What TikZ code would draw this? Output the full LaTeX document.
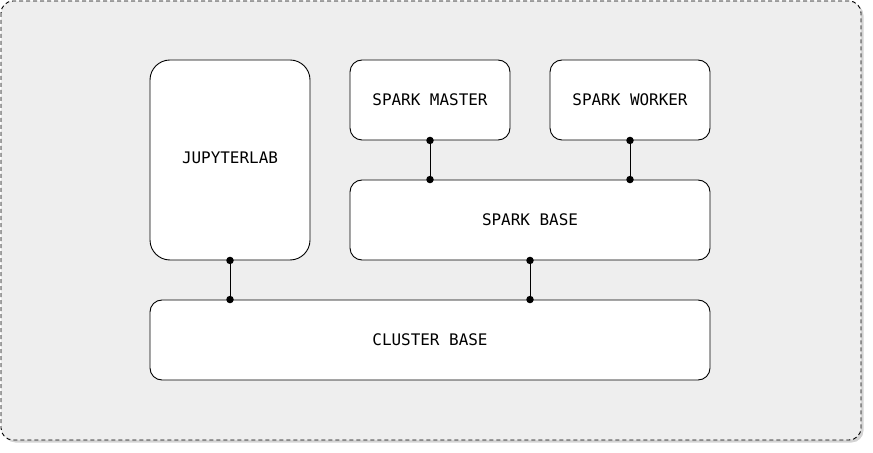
\documentclass[tikz,border=0pt]{standalone}
\usepackage{fontspec}
\setmonofont{DejaVu Sans Mono}
\usetikzlibrary{shadows}
\definecolor{panelgray}{HTML}{EEEEEE}
\tikzset{
	box/.style={draw, fill=white, line width=0.9bp, rounded corners=12bp, inner sep=0pt,
		minimum width=160bp, minimum height=80bp,
		font=\ttfamily\fontsize{16}{19}\selectfont},
	dot/.style={fill=black, circle, inner sep=0pt, minimum size=7.5bp},
	link/.style={line width=0.9bp}
}
\begin{document}
\begin{tikzpicture}[x=1bp,y=-1bp]
	\useasboundingbox (0,0) rectangle (873,453);
	% outer panel
	\draw[dashed, dash pattern=on 4bp off 3bp, line width=0.9bp, fill=panelgray, rounded corners=12bp,
		drop shadow={shadow xshift=2.5bp, shadow yshift=-2.5bp, opacity=0.35}]
		(1,1) rectangle (861,440);

	% boxes
	\node[box, minimum height=200bp, rounded corners=20bp] (jupyter) at (230,160) {};
	\node[font=\ttfamily\fontsize{16}{19}\selectfont] (jupyterlabel) at (230,158) {JUPYTERLAB};
	\node[box] (master) at (430,100) {SPARK MASTER};
	\node[box] (worker) at (630,100) {SPARK WORKER};
	\node[box, minimum width=360bp] (sparkbase) at (530,220) {SPARK BASE};
	\node[box, minimum width=560bp] (cluster) at (430,340) {CLUSTER BASE};

	% links
	\draw[link] (jupyter.south) -- (jupyter.south |- cluster.north);
	\draw[link] (sparkbase.south) -- (sparkbase.south |- cluster.north);
	\draw[link] (master.south) -- (master.south |- sparkbase.north);
	\draw[link] (worker.south) -- (worker.south |- sparkbase.north);

	% end points
	\foreach \a/\b in {jupyter/cluster, sparkbase/cluster, master/sparkbase, worker/sparkbase}{
		\node[dot] at (\a.south) {};
		\node[dot] at (\a.south |- \b.north) {};
	}
\end{tikzpicture}
\end{document}
